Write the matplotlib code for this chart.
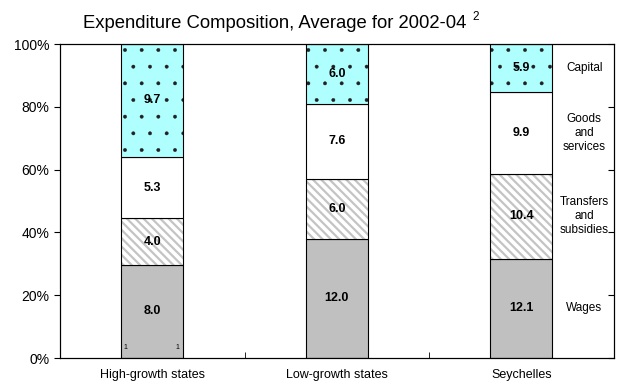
import matplotlib.pyplot as plt
import numpy as np

plt.rcParams["font.family"] = ["Liberation Sans", "DejaVu Sans"]

groups = ["High-growth states", "Low-growth states", "Seychelles"]
components = ["Wages", "Transfers\nand\nsubsidies", "Goods\nand\nservices", "Capital"]
wages = [8.0, 12.0, 12.1]
transfers = [4.0, 6.0, 10.4]
goods = [5.3, 7.6, 9.9]
capital = [9.7, 6.0, 5.9]

values = np.array([wages, transfers, goods, capital])
shares = values / values.sum(axis=0) * 100

fig = plt.figure(figsize=(6.25, 3.86), dpi=100)
ax = fig.add_axes([0.096, 0.0725, 0.886, 0.8135])

x = np.arange(len(groups))
w = 0.336
bottom = np.zeros(len(groups))

for i, comp in enumerate(components):
    h = shares[i]
    if i == 0:
        ax.bar(x, h, w, bottom=bottom, color="#c0c0c0", edgecolor="black", lw=0.8)
    elif i == 1:
        with plt.rc_context({"hatch.linewidth": 1.6}):
            ax.bar(x, h, w, bottom=bottom, color="white", edgecolor="#c4c4c4",
                   hatch="\\\\\\\\", lw=0)
        ax.bar(x, h, w, bottom=bottom, color="none", edgecolor="black", lw=0.8)
    elif i == 2:
        ax.bar(x, h, w, bottom=bottom, color="white", edgecolor="black", lw=0.8)
    else:
        with plt.rc_context({"hatch.linewidth": 0.3}):
            ax.bar(x, h, w, bottom=bottom, color="#b0ffff", edgecolor="#202020",
                   hatch=".", lw=0)
        ax.bar(x, h, w, bottom=bottom, color="none", edgecolor="black", lw=0.8)

    for xi, b, hh, v in zip(x, bottom, h, values[i]):
        ax.text(xi, b + hh / 2, f"{v:.1f}", ha="center", va="center",
                fontsize=9, fontweight="bold")
    # series name beside the last bar
    ax.text(2.5 - 0.16, bottom[-1] + h[-1] / 2, comp, ha="center",
            va="center", fontsize=8.5, linespacing=1.2)
    bottom += h

# small marks at the foot of the first bar
ax.text(-w / 2 + 0.02, 3.5, "1", fontsize=5, ha="center", va="center")
ax.text(w / 2 - 0.03, 3.5, "1", fontsize=5, ha="center", va="center")

ax.set_xlim(-0.5, 2.5)
ax.set_ylim(0, 100)
ax.set_yticks(np.arange(0, 101, 20))
ax.set_yticklabels([f"{t}%" for t in range(0, 101, 20)], fontsize=10)
ax.tick_params(axis="y", direction="out", length=4)
ax.set_xticks(x)
ax.set_xticklabels(groups, fontsize=9)
ax.tick_params(axis="x", which="major", length=0, pad=8)
ax.set_xticks([0.5, 1.5], minor=True)
ax.tick_params(axis="x", which="minor", direction="in", length=4)

# inward ticks on the right-hand frame
ax2 = ax.twinx()
ax2.set_ylim(0, 100)
ax2.set_yticks(np.arange(0, 101, 20))
ax2.tick_params(axis="y", direction="in", length=4, labelright=False)

for a in (ax, ax2):
    for s in a.spines.values():
        s.set_linewidth(0.8)

fig.text(0.439, 0.94, "Expenditure Composition, Average for 2002-04", ha="center",
         va="center", fontsize=13.3)
fig.text(0.756, 0.955, "2", fontsize=8.5, ha="left", va="center")

fig.savefig("out.png", dpi=100)
